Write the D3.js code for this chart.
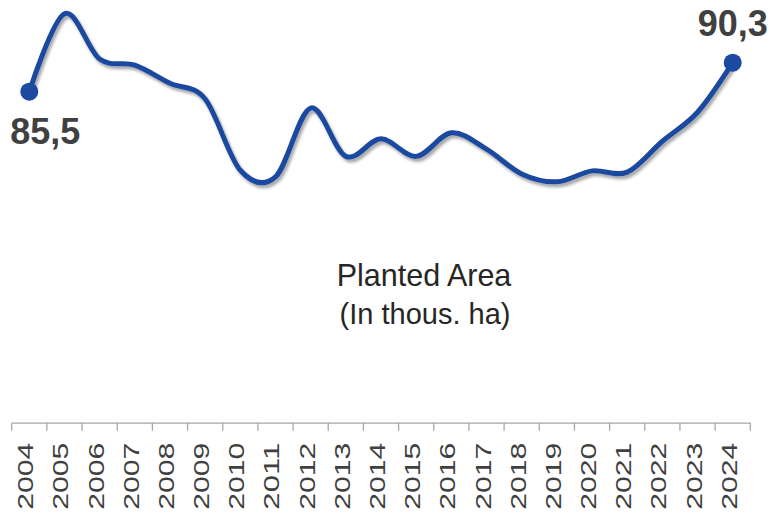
<!DOCTYPE html>
<html>
<head>
<meta charset="utf-8">
<script src="https://cdn.jsdelivr.net/npm/d3@7"></script>
<style>
  body { margin: 0; background: #fff; }
  svg { display: block; font-family: "Liberation Sans", Arial, sans-serif; }
</style>
</head>
<body>
<div id="chart"></div>
<script>
// Planted area, thousand hectares
var years = ["2004", "2005", "2006", "2007", "2008", "2009", "2010", "2011", "2012", "2013",
  "2014", "2015", "2016", "2017", "2018", "2019", "2020", "2021", "2022", "2023", "2024"];
var area = [85.5, 98.4, 90.9, 89.9, 86.9, 84.3, 72.5, 71.4, 82.8, 74.8,
  77.7, 74.8, 78.7, 76.0, 71.9, 70.6, 72.4, 72.2, 77.3, 82.1, 90.3];
var titleLines = ["Planted Area", "(In thous. ha)"];

var svgWidth = 772;
var svgHeight = 515;

var svg = d3.select("#chart")
  .append("svg")
  .attr("width", svgWidth)
  .attr("height", svgHeight);

// soft grey shadow under the line
var shadow = svg.append("defs").append("filter")
  .attr("id", "shadow")
  .attr("x", "-10%").attr("y", "-20%")
  .attr("width", "120%").attr("height", "140%");
shadow.append("feDropShadow")
  .attr("dx", 2)
  .attr("dy", 3)
  .attr("stdDeviation", 1.8)
  .attr("flood-color", "#000")
  .attr("flood-opacity", 0.35);

// scales
var xScale = d3.scaleBand()
  .domain(years)
  .range([11.7, 750.3]);

var yScale = d3.scaleLinear()
  .domain([60, 100])
  .range([245.8, 4.1]);

var xPos = d => xScale(d) + xScale.bandwidth() / 2;

// bottom axis
var axisY = 422.7;
var bottomAxis = d3.axisBottom(xScale).tickSize(0).tickFormat("");
var axisG = svg.append("g")
  .attr("transform", `translate(0, ${axisY})`)
  .call(bottomAxis);
axisG.select(".domain").attr("stroke", "#a6a6a6").attr("stroke-width", 1.3);

// category boundary ticks
var bounds = years.map(d => xScale(d)).concat([xScale.range()[1]]);
axisG.selectAll("line.bound")
  .data(bounds)
  .enter()
  .append("line")
  .attr("class", "bound")
  .attr("x1", d => d).attr("x2", d => d)
  .attr("y1", 0).attr("y2", 8)
  .attr("stroke", "#a6a6a6")
  .attr("stroke-width", 1.3);

// rotated year labels
svg.append("g").selectAll("text")
  .data(years)
  .enter()
  .append("text")
  .attr("transform", d => `translate(${xPos(d) + 4}, ${axisY + 20}) rotate(-90)`)
  .attr("text-anchor", "end")
  .attr("font-size", 21.5)
  .attr("textLength", 67)
  .attr("lengthAdjust", "spacingAndGlyphs")
  .attr("fill", "#404040")
  .text(d => d);

// title in the middle
svg.append("text")
  .attr("x", 424)
  .attr("y", 286)
  .attr("text-anchor", "middle")
  .attr("font-size", 30.5)
  .attr("fill", "#262626")
  .text(titleLines[0]);

svg.append("text")
  .attr("x", 425)
  .attr("y", 324)
  .attr("text-anchor", "middle")
  .attr("font-size", 29)
  .attr("fill", "#262626")
  .text(titleLines[1]);

// the line
var line = d3.line()
  .x((d, i) => xPos(years[i]))
  .y(d => yScale(d))
  .curve(d3.curveCatmullRom.alpha(0));

svg.append("path")
  .datum(area)
  .attr("d", line)
  .attr("fill", "none")
  .attr("stroke", "#1c4aa0")
  .attr("stroke-width", 5)
  .attr("stroke-linecap", "round")
  .attr("filter", "url(#shadow)");

// first and last point markers
var ends = [0, area.length - 1];
svg.append("g").selectAll("circle")
  .data(ends)
  .enter()
  .append("circle")
  .attr("cx", i => xPos(years[i]))
  .attr("cy", i => yScale(area[i]))
  .attr("r", 9)
  .attr("fill", "#1c4aa0");

// value labels
svg.append("text")
  .attr("x", xPos(years[0]) - 19)
  .attr("y", yScale(area[0]) + 52)
  .attr("font-size", 36)
  .attr("font-weight", "bold")
  .attr("fill", "#404040")
  .text(String(area[0]).replace(".", ","));

svg.append("text")
  .attr("x", xPos(years[years.length - 1]))
  .attr("y", yScale(area[area.length - 1]) - 27)
  .attr("text-anchor", "middle")
  .attr("font-size", 36)
  .attr("font-weight", "bold")
  .attr("fill", "#404040")
  .text(String(area[area.length - 1]).replace(".", ","));
</script>
</body>
</html>
